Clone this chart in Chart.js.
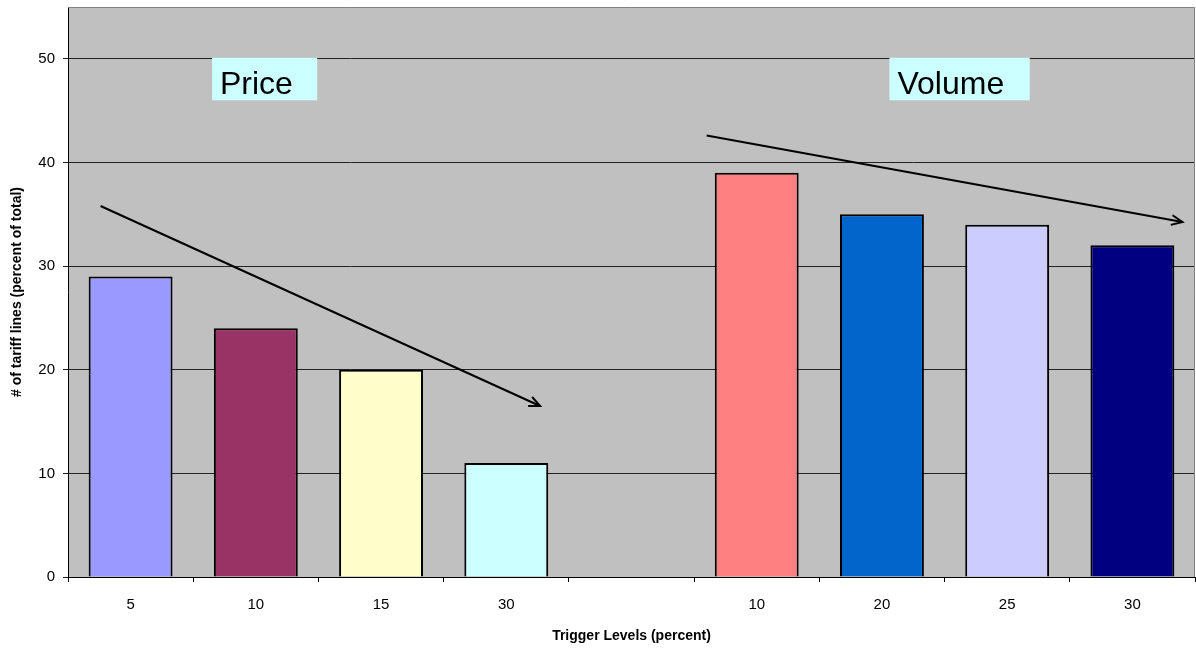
<!DOCTYPE html>
<html>
<head>
<meta charset="utf-8">
<script src="https://cdn.jsdelivr.net/npm/chart.js@4/dist/chart.umd.min.js"></script>
<style>
  html, body { margin: 0; padding: 0; background: #ffffff; }
  #wrap { width: 1196px; height: 651px; }
</style>
</head>
<body>
<div id="wrap"><canvas id="c" width="1196" height="651"></canvas></div>
<script>
// Trigger levels: price group, a gap, then volume group
const categories = ['5', '10', '15', '30', '', '10', '20', '25', '30'];
const shares = [29, 24, 20, 11, null, 39, 35, 34, 32];
const barColors = ['#9999FF', '#993366', '#FFFFCC', '#CCFFFF', '#C0C0C0',
                   '#FF8080', '#0066CC', '#CCCCFF', '#000080'];
const yTicks = [0, 10, 20, 30, 40, 50];

// Trend arrows in data units: [x as category index, y as percent]
const priceArrow = [[-0.24, 35.8], [3.27, 16.5]];
const volumeArrow = [[4.6, 42.6], [8.4, 34.25]];

// Group labels: text, left/right in category-index units, top/bottom in percent
const groupLabels = [
  { text: 'Price',  x0: 0.65, x1: 1.49, y0: 50.1, y1: 46.0 },
  { text: 'Volume', x0: 6.06, x1: 7.18, y0: 50.1, y1: 46.0 }
];

const FONT = '"Liberation Sans", Arial, sans-serif';

const plotBackground = {
  id: 'plotBackground',
  beforeDraw(chart) {
    const { ctx, chartArea: a } = chart;
    ctx.save();
    ctx.fillStyle = '#C0C0C0';
    ctx.fillRect(a.left, a.top, a.right - a.left, a.bottom - a.top);
    ctx.restore();
  },
  afterDraw(chart) {
    const { ctx, chartArea: a } = chart;
    ctx.save();
    ctx.strokeStyle = '#808080';
    ctx.lineWidth = 1;
    ctx.beginPath();
    ctx.moveTo(a.left, a.top + 0.5);
    ctx.lineTo(a.right - 0.5, a.top + 0.5);
    ctx.lineTo(a.right - 0.5, a.bottom);
    ctx.stroke();
    ctx.restore();
  }
};

function drawArrow(ctx, x1, y1, x2, y2) {
  ctx.beginPath();
  ctx.moveTo(x1, y1);
  ctx.lineTo(x2, y2);
  ctx.stroke();
  const ang = Math.atan2(y2 - y1, x2 - x1);
  const len = 12, spread = 0.42;
  ctx.beginPath();
  ctx.moveTo(x2 - len * Math.cos(ang - spread), y2 - len * Math.sin(ang - spread));
  ctx.lineTo(x2, y2);
  ctx.lineTo(x2 - len * Math.cos(ang + spread), y2 - len * Math.sin(ang + spread));
  ctx.stroke();
}

const annotations = {
  id: 'annotations',
  afterDatasetsDraw(chart) {
    const { ctx, scales: { x, y } } = chart;
    ctx.save();
    ctx.strokeStyle = '#000000';
    ctx.lineWidth = 2;
    [priceArrow, volumeArrow].forEach(arr => {
      drawArrow(ctx,
        x.getPixelForValue(arr[0][0]), y.getPixelForValue(arr[0][1]),
        x.getPixelForValue(arr[1][0]), y.getPixelForValue(arr[1][1]));
    });
    groupLabels.forEach(g => {
      const l = x.getPixelForValue(g.x0), r = x.getPixelForValue(g.x1);
      const t = y.getPixelForValue(g.y0), b = y.getPixelForValue(g.y1);
      ctx.fillStyle = '#CCFFFF';
      ctx.fillRect(l, t, r - l, b - t);
      ctx.fillStyle = '#000000';
      ctx.font = '32px ' + FONT;
      ctx.textBaseline = 'alphabetic';
      ctx.textAlign = 'left';
      ctx.fillText(g.text, l + 8, b - 6);
    });
    ctx.restore();
  }
};

new Chart(document.getElementById('c'), {
  type: 'bar',
  data: {
    labels: categories,
    datasets: [{
      data: shares,
      backgroundColor: barColors,
      borderColor: '#000000',
      borderWidth: 2,
      barPercentage: 0.67,
      categoryPercentage: 1.0
    }]
  },
  options: {
    responsive: false,
    animation: false,
    devicePixelRatio: 1,
    layout: { padding: { left: 0, top: 7, right: 1, bottom: 0 } },
    plugins: { legend: { display: false }, tooltip: { enabled: false } },
    scales: {
      x: {
        grid: { display: true, drawOnChartArea: false, offset: true, color: '#000000', tickLength: 5 },
        border: { display: true, color: '#000000', width: 1 },
        ticks: { color: '#000000', font: { family: FONT, size: 15 }, padding: 14, maxRotation: 0, autoSkip: false },
        title: { display: true, text: 'Trigger Levels (percent)', color: '#000000',
                 font: { family: FONT, size: 14, weight: 'bold' }, padding: { top: 3, bottom: 6 } },
        afterFit(scale) { scale.height = 74; }
      },
      y: {
        min: 0, max: 55,
        afterBuildTicks(scale) { scale.ticks = yTicks.map(v => ({ value: v })); },
        grid: { color: '#222222', lineWidth: 1, tickLength: 5,
                drawTicks: true },
        border: { display: true, color: '#000000', width: 1 },
        ticks: { color: '#000000', font: { family: FONT, size: 15 }, padding: 8 },
        title: { display: true, text: '# of tariff lines (percent of total)', color: '#000000',
                 font: { family: FONT, size: 14, weight: 'bold' }, padding: { top: 9, bottom: 4 } },
        afterFit(scale) { scale.width = 68; scale.paddingTop = 0; }
      }
    }
  },
  plugins: [plotBackground, annotations]
});
</script>
</body>
</html>
